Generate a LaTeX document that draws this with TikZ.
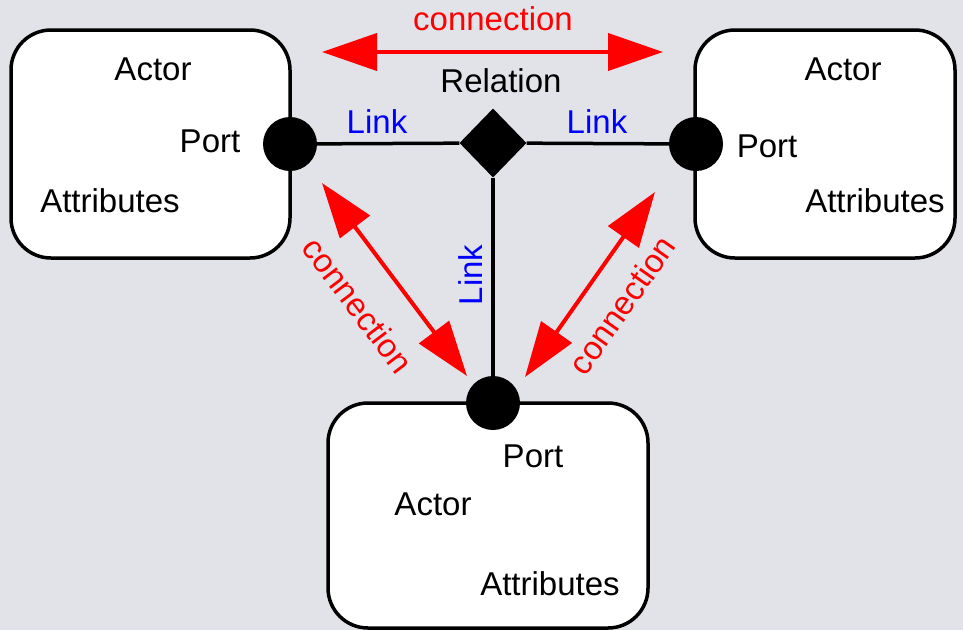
\documentclass[tikz,border=0pt]{standalone}
\usepackage{fontspec}
\setmainfont{Liberation Sans}
\usetikzlibrary{shapes.geometric,arrows.meta}
\definecolor{bg}{RGB}{226,227,233}
\begin{document}
\begin{tikzpicture}[x=1pt,y=-1pt,
  font=\fontsize{33}{40}\selectfont,
  actorbox/.style={draw=black,line width=3.5pt,fill=white,rounded corners=40pt,inner sep=0pt},
  portdot/.style={circle,fill=black,inner sep=0pt,minimum size=54pt},
  reldia/.style={diamond,fill=black,inner sep=0pt,minimum width=67pt,minimum height=69pt},
  txt/.style={anchor=base,inner sep=0pt},
  linktxt/.style={anchor=base,inner sep=0pt,text=blue},
  conntxt/.style={inner sep=0pt,text=red},
  linkline/.style={draw=black,line width=3.5pt},
  connarrow/.style={draw=red,line width=4pt,{Triangle[length=55pt,width=37pt]}-{Triangle[length=55pt,width=37pt]}}
]
\fill[bg] (0,0) rectangle (963,630);
\useasboundingbox (0,0) rectangle (963,630);

% actor boxes
\node[actorbox,minimum width=279pt,minimum height=228pt] (lbox) at (150.5,144) {};
\node[actorbox,minimum width=260pt,minimum height=228pt] (rbox) at (825,144) {};
\node[actorbox,minimum width=320pt,minimum height=225pt] (bbox) at (488,515.5) {};

% texts in boxes
\node[txt] (lactor) at (153,80) {Actor};
\node[txt] (lportt) at (210,152) {Port};
\node[txt] (lattr) at (110,212) {Attributes};
\node[txt] (ractor) at (843,80) {Actor};
\node[txt] (rportt) at (767,157) {Port};
\node[txt] (rattr) at (875,212) {Attributes};
\node[txt] (bportt) at (533,467) {Port};
\node[txt] (bactor) at (433,515) {Actor};
\node[txt] (battr) at (550,595) {Attributes};

% ports and relation
\node[portdot] (lport) at (290,144) {};
\node[portdot] (rport) at (696,144) {};
\node[portdot] (bport) at (493,403) {};
\node[reldia] (rel) at (493,143) {};
\node[txt] (reltxt) at (501,92) {Relation};

% links
\draw[linkline] (lport) -- (rel);
\draw[linkline] (rel) -- (rport);
\draw[linkline] (rel) -- (bport);
\node[linktxt] (llink) at (377,133) {Link};
\node[linktxt] (rlink) at (597,133) {Link};
\node[linktxt,rotate=90] (vlink) at (482,275) {Link};

% connections
\coordinate (ta) at (322,52);
\coordinate (tb) at (663,52);
\coordinate (la) at (322,183);
\coordinate (lb) at (467,376);
\coordinate (ra) at (655,192);
\coordinate (rb) at (525,377);
\draw[connarrow] (ta) -- (tb);
\draw[connarrow] (la) -- (lb);
\draw[connarrow] (ra) -- (rb);
\node[txt,text=red] (tconn) at (493,30) {connection};
\node[conntxt,rotate=-53] (lconn) at (358,305) {connection};
\node[conntxt,rotate=55] (rconn) at (622,305) {connection};
\end{tikzpicture}
\end{document}
